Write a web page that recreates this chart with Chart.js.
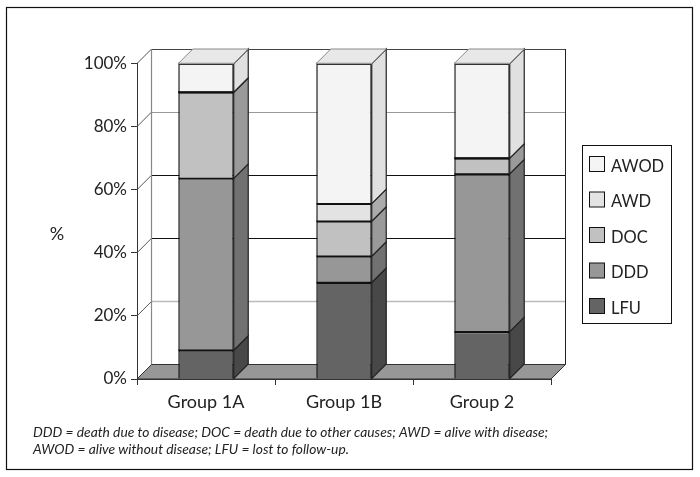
<!DOCTYPE html>
<html>
<head>
<meta charset="utf-8">
<title>Outcome by group</title>
<script src="https://cdn.jsdelivr.net/npm/chart.js@4/dist/chart.umd.min.js"></script>
<style>
  html, body { margin: 0; padding: 0; background: #fff; }
  canvas { display: block; }
</style>
</head>
<body>
<canvas id="chart" width="700" height="477"></canvas>
<script>
// Data (stack order is bottom to top)
const groups = ['Group 1A', 'Group 1B', 'Group 2'];
const lfu  = [9.1, 30.6, 15];
const ddd  = [54.5, 8.3, 50];
const doc  = [27.3, 11.1, 5];
const awd  = [0, 5.6, 0];
const awod = [9.1, 44.4, 30];
const yTicks = [0, 20, 40, 60, 80, 100];
const footnote = [
  'DDD = death due to disease; DOC = death due to other causes; AWD = alive with disease;',
  'AWOD = alive without disease; LFU = lost to follow-up.'
];

// Colours
const frontColors = ['#646464', '#979797', '#c1c1c1', '#e3e3e3', '#f4f4f4'];
const sideColors  = ['#484848', '#717171', '#9a9a9a', '#ababab', '#e0e0e0'];
const topColor = '#e8e8e8';
const floorColor = '#979797';
// the back wall lines come out in different greys in the original
const wallLineColors = { 0: '#333', 20: '#bbb', 40: '#111', 60: '#111', 80: '#999', 100: '#444' };

// 3D offset of the back wall
const DX = 14.5;
const DY = 14.5;
const FONT = 'Lato, "Open Sans", sans-serif';

function line(ctx, x1, y1, x2, y2, color, width) {
  ctx.strokeStyle = color;
  ctx.lineWidth = width || 1;
  ctx.beginPath();
  ctx.moveTo(x1, y1);
  ctx.lineTo(x2, y2);
  ctx.stroke();
}

function poly(ctx, pts, fill, stroke, width) {
  ctx.beginPath();
  pts.forEach((p, i) => i ? ctx.lineTo(p[0], p[1]) : ctx.moveTo(p[0], p[1]));
  ctx.closePath();
  ctx.fillStyle = fill;
  ctx.fill();
  ctx.strokeStyle = stroke;
  ctx.lineWidth = width || 1;
  ctx.stroke();
}

// Walls, floor and back grid
const wallsPlugin = {
  id: 'walls',
  beforeDatasetsDraw(chart) {
    const { ctx, chartArea: a, scales } = chart;
    ctx.save();
    yTicks.forEach(v => {
      const y = scales.y.getPixelForValue(v);
      if (v > 0) {
        // snap to the pixel grid so the thin lines stay crisp
        const wy = Math.round(y - DY) + 0.5;
        line(ctx, a.left + DX, wy, a.right + DX, wy, wallLineColors[v], v === 20 ? 1.5 : 1);
      }
      line(ctx, a.left, y, a.left + DX, y - DY, '#555', 1);
    });
    line(ctx, a.left + DX, a.top - DY, a.left + DX, a.bottom - DY, '#888', 1.2);
    line(ctx, a.right + DX, a.top - DY, a.right + DX, a.bottom - DY, '#222', 1);
    poly(ctx, [
      [a.left, a.bottom], [a.right, a.bottom],
      [a.right + DX, a.bottom - DY], [a.left + DX, a.bottom - DY]
    ], floorColor, '#333', 1);
    ctx.restore();
  },
  // side and top faces of the bars, from the bar elements themselves
  afterDatasetsDraw(chart) {
    const { ctx } = chart;
    ctx.save();
    chart.data.datasets.forEach((ds, i) => {
      chart.getDatasetMeta(i).data.forEach((bar, j) => {
        const left = bar.x - bar.width / 2;
        const right = bar.x + bar.width / 2;
        poly(ctx, [
          [right, bar.base], [right, bar.y],
          [right + DX, bar.y - DY], [right + DX, bar.base - DY]
        ], sideColors[i], '#222', 1.2);
        line(ctx, left, bar.y, right, bar.y, '#111', ds.data[j] === 0 ? 2 : 1.4);
        if (i === chart.data.datasets.length - 1) {
          poly(ctx, [
            [left, bar.y], [right, bar.y],
            [right + DX, bar.y - DY], [left + DX, bar.y - DY]
          ], topColor, '#888', 1);
          line(ctx, left, bar.y, right, bar.y, '#999', 1.5);
        }
      });
    });
    ctx.restore();
  },
  // frame, legend, y title and footnote
  afterDraw(chart) {
    const { ctx } = chart;
    ctx.save();
    ctx.strokeStyle = '#111';
    ctx.lineWidth = 1.2;
    ctx.strokeRect(6.5, 7.5, 686, 462);

    ctx.lineWidth = 1;
    ctx.strokeRect(582.5, 145.5, 89, 178);
    ctx.textBaseline = 'middle';
    ctx.textAlign = 'left';
    const n = chart.data.datasets.length;
    for (let i = 0; i < n; i++) {
      const ds = chart.data.datasets[n - 1 - i];
      const y = 156.5 + i * 35.5;
      ctx.fillStyle = ds.backgroundColor;
      ctx.fillRect(589.5, y, 15, 15);
      ctx.strokeStyle = '#111';
      ctx.strokeRect(589.5, y, 15, 15);
      ctx.fillStyle = '#222';
      ctx.font = '16.5px ' + FONT;
      ctx.fillText(ds.label, 611, y + 10);
    }

    ctx.fillStyle = '#222';
    ctx.font = '18px ' + FONT;
    ctx.textAlign = 'center';
    ctx.fillText('%', 57, 234);

    ctx.textAlign = 'left';
    ctx.textBaseline = 'alphabetic';
    ctx.font = 'italic 13.8px ' + FONT;
    footnote.forEach((t, i) => ctx.fillText(t, 33, 437 + i * 16.5));
    ctx.restore();
  }
};

const names = ['LFU', 'DDD', 'DOC', 'AWD', 'AWOD'];
const series = [lfu, ddd, doc, awd, awod];

new Chart(document.getElementById('chart'), {
  type: 'bar',
  data: {
    labels: groups,
    datasets: series.map((values, i) => ({
      label: names[i],
      data: values,
      backgroundColor: frontColors[i],
      borderColor: '#111',
      borderWidth: 1.5,
      barPercentage: 0.402,
      categoryPercentage: 1
    }))
  },
  plugins: [wallsPlugin],
  options: {
    responsive: false,
    animation: false,
    layout: { padding: { left: 0, top: 63.5, right: 149, bottom: 0 } },
    plugins: { legend: { display: false }, tooltip: { enabled: false } },
    scales: {
      x: {
        stacked: true,
        afterFit(scale) { scale.height = 98; },
        grid: { drawOnChartArea: false, drawTicks: true, tickLength: 6, color: '#333' },
        border: { display: true, color: '#333' },
        ticks: { color: '#222', padding: 6, maxRotation: 0, font: { family: FONT, size: 18 } }
      },
      y: {
        stacked: true,
        min: 0,
        max: 100,
        afterFit(scale) { scale.width = 137; },
        afterBuildTicks(scale) { scale.ticks = yTicks.map(v => ({ value: v })); },
        grid: { drawOnChartArea: false, drawTicks: true, tickLength: 6, color: '#333' },
        border: { display: true, color: '#333' },
        ticks: { color: '#222', padding: 4, font: { family: FONT, size: 17 }, callback: v => v + '%' }
      }
    }
  }
});
</script>
</body>
</html>
